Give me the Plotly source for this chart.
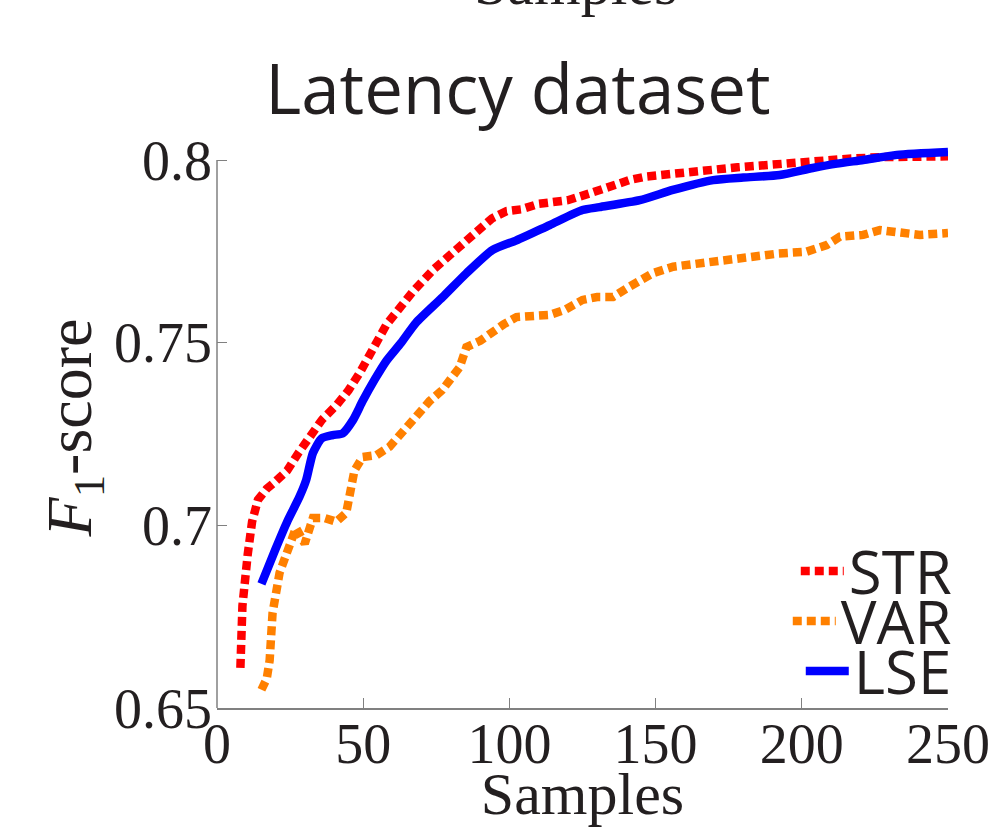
import plotly.graph_objects as go

# ---- data ----
str_x = [8, 8.7, 10.5, 12, 14, 17, 20, 24, 28, 32, 36, 41, 45, 49, 54, 58, 63, 67, 74, 80, 85, 90, 94, 99,
         104, 110, 120, 128, 135, 141, 147, 155, 162, 170, 178, 186, 195, 204, 215, 227, 238, 250]
str_y = [0.661, 0.678, 0.692, 0.701, 0.707, 0.710, 0.712, 0.715, 0.720, 0.725, 0.729, 0.733, 0.737, 0.742,
         0.749, 0.755, 0.760, 0.764, 0.770, 0.774, 0.778, 0.781, 0.784, 0.786, 0.7865, 0.788, 0.789, 0.791,
         0.793, 0.7945, 0.7955, 0.7962, 0.797, 0.7975, 0.798, 0.7985, 0.7992, 0.800, 0.8003, 0.8008, 0.8008, 0.801]

var_x = [15.2, 17, 18, 19, 21.4, 24.2, 27, 30, 32.8, 36.8, 40.8, 44.2, 46, 47, 49.8, 54.5, 59, 63.5, 68, 72.7,
         77, 83, 85.3, 90, 93.3, 98, 102.4, 108, 113.8, 119, 125, 130, 135.4, 141, 149, 156, 163, 170, 181,
         192, 201.6, 208.5, 213, 221, 226.7, 233.5, 240.4, 250]
var_y = [0.655, 0.658, 0.663, 0.676, 0.687, 0.6933, 0.6993, 0.695, 0.702, 0.702, 0.701, 0.7034, 0.7097, 0.715,
         0.7187, 0.7192, 0.7215, 0.7252, 0.7297, 0.734, 0.737, 0.7433, 0.7488, 0.7505, 0.7526, 0.755, 0.757,
         0.7575, 0.7576, 0.759, 0.7617, 0.7625, 0.7625, 0.7653, 0.769, 0.7708, 0.7715, 0.7726, 0.7735, 0.7744,
         0.7749, 0.7767, 0.779, 0.7795, 0.7808, 0.7803, 0.7795, 0.780]

lse_x = [15.2, 20, 24, 28.2, 30.5, 32.8, 35.8, 39.6, 43, 46.5, 49.8, 54, 57.9, 63, 68, 77.2, 85.3, 94.3, 102.4,
         113.8, 125, 130.8, 144.6, 155.9, 169.7, 180, 192.4, 203.7, 212, 221, 232.5, 250]
lse_y = [0.684, 0.6935, 0.701, 0.7078, 0.7124, 0.7198, 0.7238, 0.7247, 0.7252, 0.7288, 0.734, 0.740, 0.745,
         0.750, 0.7554, 0.7625, 0.769, 0.7754, 0.778, 0.7822, 0.7863, 0.7871, 0.789, 0.7918, 0.7945, 0.7952,
         0.7959, 0.7978, 0.799, 0.800, 0.8014, 0.8022]

x_ticks = [0, 50, 100, 150, 200, 250]
y_ticks = [0.65, 0.7, 0.75, 0.8]
y_tick_text = ["0.65", "0.7", "0.75", "0.8"]

SERIF = "Liberation Serif"
SANS = "Open Sans"
DOT = "9px,5px"
TXT = "#231F20"
AX = "#808080"

# layout geometry: axis 0.65..0.8 spans 548 px; extra headroom above 0.8 so lines are not clipped
Y_LO, Y_AX_TOP = 0.65, 0.8
PX_PER_UNIT = 548 / (Y_AX_TOP - Y_LO)
HEAD_PX = 13
Y_HI = Y_AX_TOP + HEAD_PX / PX_PER_UNIT
T_MARGIN = 160 - HEAD_PX
B_MARGIN = 827 - 708
PLOT_H = 708 - T_MARGIN

def ypaper(px):
    return (708 - px) / PLOT_H

fig = go.Figure()
fig.add_trace(go.Scatter(x=str_x, y=str_y, mode="lines", name="STR",
                         line=dict(color="#FF0000", width=8.5, dash=DOT), legend="legend"))
fig.add_trace(go.Scatter(x=var_x, y=var_y, mode="lines", name="VAR",
                         line=dict(color="#FF8000", width=8.5, dash=DOT), legend="legend2"))
fig.add_trace(go.Scatter(x=lse_x, y=lse_y, mode="lines", name="LSE",
                         line=dict(color="#0000FF", width=8.5, shape="spline", smoothing=0.6),
                         legend="legend3"))

def leg(ypos):
    return dict(x=1.012, xanchor="right", y=ypos, yanchor="middle", bgcolor="rgba(0,0,0,0)",
                font=dict(family=SANS, size=60, color=TXT), itemwidth=43,
                borderwidth=0, tracegroupgap=0)

fig.update_layout(
    width=994, height=827,
    margin=dict(l=217, r=46, t=T_MARGIN, b=B_MARGIN, autoexpand=False),
    paper_bgcolor="white", plot_bgcolor="white",
    title=dict(text="Latency dataset", x=0.521, xanchor="center", y=1 - 90 / 827, yanchor="middle",
               font=dict(family=SANS, size=69, color=TXT)),
    legend=leg(ypaper(571)),
    legend2=leg(ypaper(621)),
    legend3=leg(ypaper(671)),
    showlegend=True,
)

fig.update_xaxes(range=[0, 250], tickvals=x_ticks, ticks="inside", ticklen=10, tickwidth=1,
                 tickcolor=AX, showline=True, linecolor=AX, linewidth=1.5,
                 showgrid=False, zeroline=False, automargin=False, ticklabelstandoff=-14,
                 tickfont=dict(family=SERIF, size=56, color=TXT),
                 title=dict(text="Samples", font=dict(family=SERIF, size=60, color=TXT), standoff=0))
fig.update_yaxes(range=[Y_LO, Y_HI], tickvals=y_ticks, ticktext=y_tick_text, ticks="inside", ticklen=10,
                 tickwidth=1, tickcolor=AX, showline=False, ticklabelstandoff=4,
                 showgrid=False, zeroline=False, automargin=False,
                 tickfont=dict(family=SERIF, size=56, color=TXT),
                 title=dict(text="<i>F</i><sub>1</sub>-score",
                            font=dict(family=SERIF, size=64, color=TXT), standoff=0))

# y axis line only from 0.65 to 0.8 (as in the reference)
fig.add_shape(type="line", xref="paper", yref="y", x0=0, x1=0, y0=Y_LO, y1=Y_AX_TOP,
              line=dict(color=AX, width=1.5), layer="below")

# partially visible heading from the panel above
fig.add_annotation(text="Samples", xref="paper", yref="paper", x=0.49, y=ypaper(-16),
                   xanchor="center", yanchor="middle", showarrow=False,
                   font=dict(family=SERIF, size=60, color=TXT))

fig.write_html("out.html")
